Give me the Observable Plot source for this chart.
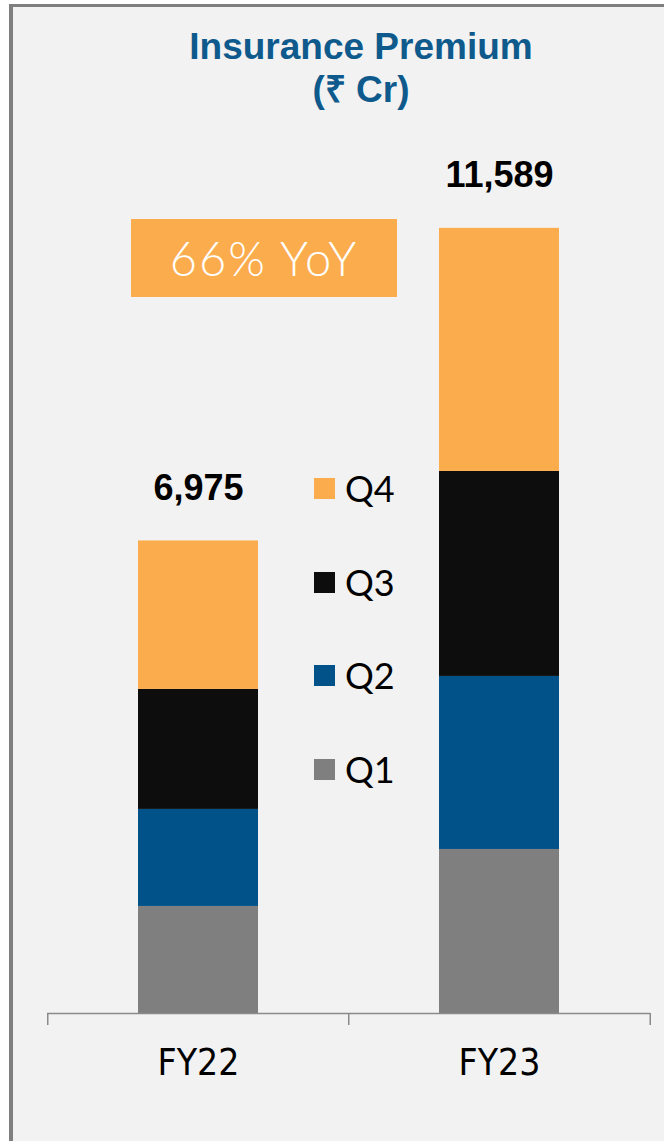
<!DOCTYPE html>
<html><head><meta charset="utf-8">
<script src="https://cdn.jsdelivr.net/npm/d3@7"></script>
<script src="https://cdn.jsdelivr.net/npm/@observablehq/plot@0.6"></script>
<style>
html,body{margin:0;padding:0;background:#fff;}
#page{position:relative;width:664px;height:1141px;overflow:hidden;}
#panel{position:absolute;left:9px;top:4px;right:0;bottom:0;background:#f2f2f2;border-left:4px solid #7f7f7f;border-top:3px solid #7f7f7f;}
#title{position:absolute;left:161px;top:25px;width:400px;text-align:center;color:#0f5a8c;font:bold 37px/43px "Liberation Sans",Arial,sans-serif;}
#yoy{position:absolute;left:131px;top:219px;width:266px;height:78px;background:#fbad4e;color:#fff;font:300 47px/78px Lato,"Liberation Sans",sans-serif;text-align:center;letter-spacing:2px;}
#legend{position:absolute;left:314px;top:0;}
.lg{position:absolute;left:0;height:40px;display:flex;align-items:center;white-space:nowrap;font:400 36px/40px Lato,"Liberation Sans",sans-serif;color:#000;}
.sw{width:21px;height:21px;margin-right:10px;}
#chart{position:absolute;left:0;top:0;}
</style></head>
<body><div id="page"><div id="panel"></div>
<div id="title">Insurance Premium<br>(₹ Cr)</div>
<div id="yoy">66% YoY</div>
<div id="legend"></div>
<div id="chart"></div>
</div>
<script>
const categories = ["FY22", "FY23"];
const quarters = ["Q1", "Q2", "Q3", "Q4"];
const q1 = [1580, 2421];
const q2 = [1432, 2554];
const q3 = [1771, 3026];
const q4 = [2192, 3588];
const totals = [6975, 11589];
const colors = ["#7f7f7f", "#02528a", "#0d0d0d", "#fbad4e"];
const legendOrder = ["Q4", "Q3", "Q2", "Q1"];

const series = [q1, q2, q3, q4];
const rows = categories.flatMap((c, i) => quarters.map((q, j) => ({year: c, quarter: q, value: series[j][i]})));

const W = 664, H = 1141, mL = 47, mR = 14, mT = 200, mB = 128;
const pI = 0.6, pO = 0.3;
const step = (W - mL - mR) / (categories.length - pI + 2 * pO);
const axisColor = "#8a8a8a";

const chart = Plot.plot({
  width: W, height: H,
  marginLeft: mL, marginRight: mR, marginTop: mT, marginBottom: mB,
  style: {background: "transparent", fontFamily: "'DejaVu Sans Condensed','Liberation Sans Narrow',sans-serif", color: "#000"},
  x: {domain: categories, paddingInner: pI, paddingOuter: pO},
  y: {domain: [0, 12000], axis: null},
  color: {domain: quarters, range: colors},
  marks: [
    Plot.barY(rows, {x: "year", y: "value", fill: "quarter"}),
    Plot.ruleY([0], {stroke: axisColor, strokeWidth: 1.5}),
    Plot.axisX(categories, {dx: -step / 2, tickSize: 12, tickFormat: () => "", stroke: axisColor, strokeWidth: 1.5, label: null}),
    Plot.axisX([categories[categories.length - 1]], {dx: step / 2, tickSize: 12, tickFormat: () => "", stroke: axisColor, strokeWidth: 1.5, label: null}),
    Plot.axisX({tickSize: 0, tickPadding: 35, fontSize: 37, label: null, fill: "#000"}),
    Plot.text(categories, {x: d => d, y: (d, i) => totals[i], text: (d, i) => d3.format(",")(totals[i]),
      dy: -41, lineAnchor: "bottom", fontSize: 36, fontWeight: "bold", fill: "#000",
      fontFamily: "'Liberation Sans',Arial,sans-serif"})
  ]
});
document.getElementById("chart").appendChild(chart);

const legendCenters = [488, 582, 675, 769];
const lg = document.getElementById("legend");
legendOrder.forEach((q, k) => {
  const row = document.createElement("div");
  row.className = "lg";
  row.style.top = (legendCenters[k] - 20) + "px";
  const sw = document.createElement("div");
  sw.className = "sw";
  sw.style.background = colors[quarters.indexOf(q)];
  row.appendChild(sw);
  row.appendChild(document.createTextNode(q));
  lg.appendChild(row);
});
</script>
</body></html>
